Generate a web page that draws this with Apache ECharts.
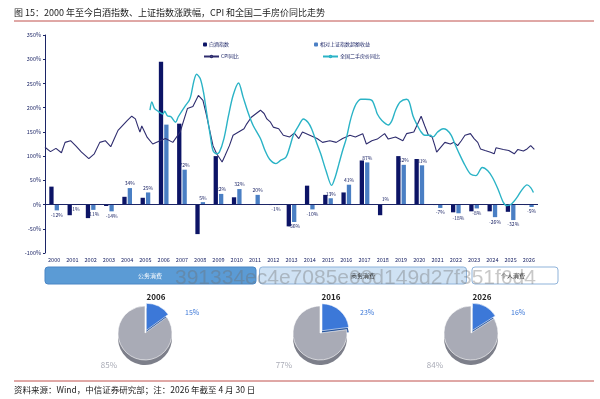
<!DOCTYPE html>
<html>
<head>
<meta charset="utf-8">
<script src="https://cdn.jsdelivr.net/npm/echarts@6/dist/echarts.min.js"></script>
<style>
  html, body { margin: 0; padding: 0; background: #fff; }
  #main { width: 600px; height: 399px; }
</style>
</head>
<body>
<div id="main"></div>
<script>
// 年度柱
const years = ['2000','2001','2002','2003','2004','2005','2006','2007','2008','2009','2010','2011','2012','2013',
  '2014','2015','2016','2017','2018','2019','2020','2021','2022','2023','2024','2025','2026'];
const baijiu = [37, -22, -28, -3, 16, 14, 295, 167, -61, 100, 15, 0, -1, -45, 39, 20, 25, 91, -22, 100, 94, -1, -16, -14, -14, -15, -1];
const excess = [-12, -1, -11, -14, 34, 25, 165, 72, 5, 22, 32, 20, -1, -36, -10, 13, 41, 87, 1, 82, 81, -7, -18, -8, -26, -32, -5];

// CPI 同比（%），时间为年份小数
const cpiTime = [2000.0, 2000.3, 2000.6, 2000.9, 2001.1, 2001.4, 2001.7, 2002.0, 2002.4, 2002.7, 2003.0, 2003.3, 2003.6, 2003.8,
  2004.0, 2004.5, 2004.75, 2004.95, 2005.1, 2005.2, 2005.3, 2005.6, 2005.9, 2006.3, 2006.6, 2007.0, 2007.4, 2007.8, 2008.1,
  2008.4, 2008.5, 2008.65, 2008.85, 2009.0, 2009.2, 2009.4, 2009.7, 2009.85, 2010.1, 2010.3, 2010.6, 2010.9, 2011.05, 2011.3,
  2011.8, 2012.0, 2012.15, 2012.35, 2012.5, 2012.8, 2013.05, 2013.4, 2013.65, 2013.9, 2014.1, 2014.5, 2014.9, 2015.2, 2015.6,
  2015.95, 2016.3, 2016.7, 2017.0, 2017.4, 2017.6, 2017.9, 2018.2, 2018.6, 2018.8, 2019.2, 2019.6, 2019.8, 2020.2, 2020.45,
  2020.6, 2020.8, 2021.0, 2021.2, 2021.35, 2021.45, 2021.6, 2021.9, 2022.2, 2022.4, 2022.6, 2022.8, 2023.0, 2023.3, 2023.5,
  2023.7, 2023.85, 2024.1, 2024.4, 2024.6, 2024.7, 2025.1, 2025.4, 2025.7, 2025.9, 2026.2, 2026.4, 2026.6, 2026.8];
const cpiValue = [-0.6, -1.4, -0.8, -1.6, 0.3, 0.6, -0.4, -1.5, -2.7, -1.8, 0.3, 0.6, -0.5, 1.0,
  2.5, 4.3, 5.1, 4.6, 3.1, 2.2, 3.3, 1.2, 0.0, 0.6, 1.0, 0.3, 2.2, 6.5, 6.9,
  8.9, 9.2, 8.0, 5.2, 2.8, -0.3, -1.8, -3.3, -2.2, -0.3, 1.6, 2.2, 2.8, 3.7, 4.9,
  6.2, 5.6, 4.6, 4.0, 3.1, 2.8, 1.6, 1.3, 2.0, 1.0, 2.2, 1.6, 1.0, 0.3, 0.6,
  0.3, 1.0, 1.6, 1.3, 1.9, 0.0, 0.6, 0.9, 1.9, 0.9, 1.3, 0.6, 1.9, 2.2, 4.0,
  5.1, 3.3, 1.6, 1.3, -0.3, -1.5, -0.9, 0.3, 0.0, 0.3, -0.3, 0.6, 1.6, 1.9, 1.0,
  0.3, -0.9, -1.2, -1.5, -1.8, -0.7, -1.0, -1.2, -1.8, -1.0, -1.3, -0.9, -0.3, -1.0];

// 全国二手房价同比（%）
const houseTime = [2005.75, 2005.85, 2006.0, 2006.2, 2006.45, 2006.55, 2006.7, 2006.9, 2007.15, 2007.3, 2007.7, 2007.9,
  2008.0, 2008.15, 2008.3, 2008.5, 2008.68, 2008.85, 2009.05, 2009.2, 2009.4, 2009.55, 2009.8, 2010.05, 2010.3, 2010.6,
  2010.85, 2011.15, 2011.4, 2011.8, 2012.05, 2012.3, 2012.65, 2012.9, 2013.2, 2013.4, 2013.6, 2013.9, 2014.15, 2014.4,
  2014.6, 2014.9, 2015.1, 2015.4, 2015.7, 2015.9, 2016.1, 2016.3, 2016.5, 2016.7, 2016.85, 2017.05, 2017.3, 2017.55,
  2017.9, 2018.1, 2018.2, 2018.45, 2018.8, 2019.0, 2019.2, 2019.45, 2019.8, 2019.95, 2020.15, 2020.35, 2020.6, 2020.8,
  2021.1, 2021.25, 2021.5, 2021.8, 2022.0, 2022.25, 2022.45, 2022.65, 2023.0, 2023.3, 2023.6, 2023.95, 2024.25, 2024.5,
  2024.8, 2025.1, 2025.3, 2025.55, 2025.85, 2026.1, 2026.4, 2026.6, 2026.75];
const houseValue = [6.2, 7.7, 6.5, 6.0, 5.5, 6.0, 5.2, 5.0, 4.0, 5.0, 7.1, 8.0,
  9.0, 11.5, 12.8, 12.0, 9.5, 5.8, 1.6, -1.2, -1.8, -1.5, 1.0, 5.2, 8.9, 11.2,
  8.6, 5.5, 3.4, 1.0, -1.2, -2.8, -3.6, -3.0, -2.4, -0.6, 1.6, 3.4, 4.6, 4.0,
  2.8, 0.0, -1.8, -5.0, -7.6, -6.0, -3.6, -1.2, 1.0, 4.0, 5.8, 7.4, 8.2, 8.2,
  8.0, 6.5, 5.5, 4.3, 3.5, 4.3, 6.2, 7.7, 8.2, 7.7, 5.2, 3.7, 2.2, 1.6,
  1.6, 1.3, 2.2, 2.8, 2.6, 1.6, 0.0, -1.5, -3.9, -5.5, -5.8, -4.3, -4.9, -6.1,
  -8.2, -10.7, -11.3, -11.0, -9.8, -8.5, -7.5, -8.0, -8.9];

// 饼图
const pieYears = ['2006', '2016', '2026'];
const pieOther = [85, 77, 84];
const pieShare = [15, 23, 16];

(function () {
  const chart = echarts.init(document.getElementById('main'));
  const font = '"Noto Sans CJK SC", sans-serif';
  const navy = '#0c1466';
  const lightBar = '#4a7fc4';
  const textNavy = '#1c2566';

  const excessData = excess.map(function (v, i) {
    return {
      value: v,
      label: { show: i !== 6, position: v >= 0 ? 'top' : 'bottom' }
    };
  });

  const cpiData = cpiTime.map(function (t, i) { return [t, cpiValue[i]]; });
  const houseData = houseTime.map(function (t, i) { return [t, houseValue[i]]; });

  // 饼图系列（含一层下沉阴影做立体感）
  const pieCx = [145, 320, 471];
  const pieSeries = [];
  pieYears.forEach(function (y, i) {
    pieSeries.push({
      type: 'pie', silent: true, startAngle: 90, clockwise: true,
      center: [pieCx[i], 338], radius: 27, z: 1, selectedMode: 'single', selectedOffset: 3,
      label: { show: false }, labelLine: { show: false },
      data: [
        { value: pieShare[i], selected: true, itemStyle: { color: '#1f4f9a' } },
        { value: pieOther[i], itemStyle: { color: '#7d7f8a' } }
      ]
    });
    pieSeries.push({
      type: 'pie', silent: true, startAngle: 90, clockwise: true,
      center: [pieCx[i], 333], radius: 27, z: 2, selectedMode: 'single', selectedOffset: 3,
      label: { show: false }, labelLine: { show: false },
      itemStyle: { borderColor: '#fff', borderWidth: 0.6 },
      data: [
        { value: pieShare[i], selected: true, itemStyle: { color: '#3c78d8' } },
        { value: pieOther[i], itemStyle: { color: '#a9abb6' } }
      ]
    });
  });

  const graphics = [
    { type: 'text', x: 14, y: 13, style: { text: '图 15：2000 年至今白酒指数、上证指数涨跌幅，CPI 和全国二手房价同比走势',
      font: '9px ' + font, fill: '#222', verticalAlign: 'middle' } },
    { type: 'line', shape: { x1: 14, y1: 21, x2: 594, y2: 21 }, style: { stroke: '#c0504d', lineWidth: 1 } },
    { type: 'line', shape: { x1: 14, y1: 381, x2: 594, y2: 381 }, style: { stroke: '#c0504d', lineWidth: 1 } },
    { type: 'text', x: 14, y: 390, style: { text: '资料来源：Wind，中信证券研究部；注：2026 年截至 4 月 30 日',
      font: '8.5px ' + font, fill: '#222', verticalAlign: 'middle' } },
    // 消费分类条
    { type: 'rect', shape: { x: 45, y: 267, width: 211, height: 17, r: 3 }, style: { fill: '#5b9bd5', stroke: '#4a86c5', lineWidth: 1 } },
    { type: 'text', x: 150, y: 275.5, style: { text: '公务消费', font: '6px ' + font, fill: '#fff', align: 'center', verticalAlign: 'middle' } },
    { type: 'rect', shape: { x: 259.5, y: 267, width: 207, height: 17, r: 3 }, style: { fill: '#cfe2f4', stroke: '#8fb3da', lineWidth: 1 } },
    { type: 'text', x: 363, y: 275.5, style: { text: '商务消费', font: '6px ' + font, fill: '#222', align: 'center', verticalAlign: 'middle' } },
    { type: 'rect', shape: { x: 472, y: 267, width: 86, height: 17, r: 3 }, style: { fill: '#fff', stroke: '#8fb3da', lineWidth: 1 } },
    { type: 'text', x: 513, y: 275.5, style: { text: '个人消费', font: '6px ' + font, fill: '#222', align: 'center', verticalAlign: 'middle' } },
    // 水印
    { type: 'text', x: 175, y: 278, z: 100, style: { text: '391334ec4e7085e08d149d27f351f6d4',
      font: '21px "Liberation Sans", sans-serif', fill: 'rgba(110,110,110,0.38)', verticalAlign: 'middle' } }
  ];
  pieYears.forEach(function (y, i) {
    const cx = pieCx[i];
    graphics.push(
      { type: 'text', x: cx + 11, y: 297, style: { text: y, font: 'bold 8px ' + font, fill: '#222', align: 'center', verticalAlign: 'middle' } },
      { type: 'text', x: cx + 40, y: 312, style: { text: pieShare[i] + '%', font: '7px ' + font, fill: '#3c78d8', verticalAlign: 'middle' } },
      { type: 'text', x: cx - 28, y: 365, style: { text: pieOther[i] + '%', font: '8px ' + font, fill: '#a9abb6', align: 'right', verticalAlign: 'middle' } }
    );
  });

  const option = {
    animation: false,
    backgroundColor: '#fff',
    textStyle: { fontFamily: font },
    grid: { left: 45, right: 62, top: 35, bottom: 146 },
    legend: [
      { data: ['白酒指数'], left: 198, top: 37, itemWidth: 4, itemHeight: 4, textStyle: { fontSize: 5, color: textNavy, padding: [0,0,0,-3] } },
      { data: ['CPI同比'], left: 198, top: 49, itemWidth: 15, itemHeight: 2, textStyle: { fontSize: 5, color: textNavy, padding: [0,0,0,-3] } },
      { data: ['相对上证指数超额收益'], left: 309, top: 37, itemWidth: 4, itemHeight: 4, textStyle: { fontSize: 5, color: textNavy, padding: [0,0,0,-3] } },
      { data: ['全国二手房价同比'], left: 317, top: 49, itemWidth: 15, itemHeight: 2, textStyle: { fontSize: 5, color: textNavy, padding: [0,0,0,-3] } }
    ],
    xAxis: [
      { type: 'category', data: years, axisLine: { show: false }, axisTick: { show: false },
        axisLabel: { fontSize: 5.5, color: textNavy, margin: 4, interval: 0 } },
      { type: 'value', min: 2000, max: 2027, show: false }
    ],
    yAxis: [
      { type: 'value', min: -100, max: 350, interval: 50, splitLine: { show: false },
        axisLine: { show: true, lineStyle: { color: textNavy, width: 1 } },
        axisTick: { show: true, length: 2, lineStyle: { color: textNavy } },
        axisLabel: { fontSize: 5.5, color: textNavy, margin: 4, formatter: '{value}%' } },
      { type: 'value', min: -20, max: 20, show: false }
    ],
    graphic: graphics,
    series: [
      { name: '白酒指数', type: 'bar', barWidth: 4.3, barGap: '25%', itemStyle: { color: navy },
        data: baijiu,
        markLine: { silent: true, symbol: 'none', label: { show: false },
          lineStyle: { color: textNavy, width: 1, type: 'solid' }, data: [{ yAxis: 0 }] } },
      { name: '相对上证指数超额收益', type: 'bar', barWidth: 4.3, itemStyle: { color: lightBar },
        label: { fontSize: 5, color: textNavy, distance: 2, formatter: '{c}%' },
        data: excessData },
      { name: 'CPI同比', type: 'line', xAxisIndex: 1, yAxisIndex: 1, showSymbol: false, z: 5,
        lineStyle: { color: '#2e2c6e', width: 1.1 }, itemStyle: { color: '#2e2c6e' }, data: cpiData },
      { name: '全国二手房价同比', type: 'line', xAxisIndex: 1, yAxisIndex: 1, showSymbol: false, smooth: 0.3, z: 5,
        lineStyle: { color: '#2ab3c6', width: 1.4 }, itemStyle: { color: '#2ab3c6' }, data: houseData }
    ].concat(pieSeries)
  };

  chart.setOption(option);
  window.addEventListener('resize', function () { chart.resize(); });
})();
</script>
</body>
</html>
